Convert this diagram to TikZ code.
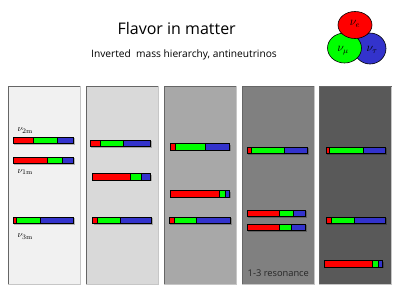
\documentclass[tikz,border=0pt]{standalone}
\usepackage{fontspec}
\newfontfamily\comicfont{Open Sans}

\definecolor{nured}{HTML}{FF0000}
\definecolor{nugreen}{HTML}{00FF00}
\definecolor{nublue}{HTML}{3333CC}
\definecolor{panelA}{HTML}{F1F1F1}
\definecolor{panelB}{HTML}{D9D9D9}
\definecolor{panelC}{HTML}{A8A8A8}
\definecolor{panelD}{HTML}{808080}
\definecolor{panelE}{HTML}{595959}

% one flavour bar: y, left, end of red, end of green, right
\newcommand{\flavorbar}[5]{%
  \fill[barshadow] (#2+1,#1+1) rectangle (#5+1.2,#1+7.7);
  \filldraw[barline, fill=nured] (#2,#1) rectangle (#3,#1+6.5);
  \filldraw[barline, fill=nugreen] (#3,#1) rectangle (#4,#1+6.5);
  \filldraw[barline, fill=nublue] (#4,#1) rectangle (#5,#1+6.5);
}

\begin{document}
\begin{tikzpicture}[x=1pt, y=-1pt,
  panel/.style={draw=gray!45, line width=0.8pt},
  panelshade/.style={draw=gray!80!black, line width=1pt},
  barline/.style={draw=black, line width=0.7pt},
  barshadow/.style={fill=black, opacity=0.25},
  flavor/.style={draw=black, line width=0.6pt},
  flavorlabel/.style={font=\fontsize{12}{13}\selectfont, inner sep=0pt},
  heading/.style={font=\comicfont\fontsize{16}{18}\selectfont},
  subheading/.style={font=\comicfont\fontsize{10.2}{12}\selectfont},
  masslabel/.style={font=\fontsize{9.5}{10}\selectfont, inner sep=0pt, anchor=west},
  reso/.style={font=\comicfont\fontsize{9.3}{10}\selectfont, text=black!85}
]

  \fill[white] (0,0) rectangle (402,301);
  \useasboundingbox (0,0) rectangle (402,301);

  % Titles
  \node[heading] (title) at (176.7,28.3) {Flavor in matter};
  \node[subheading] (subtitle) at (184,55) {Inverted\ \ mass hierarchy, antineutrinos};

  % Flavour circles
  \draw[flavor, fill=nublue] (370,48.5) ellipse [x radius=16pt, y radius=15.5pt];
  \draw[flavor, fill=nugreen] (344.5,48) ellipse [x radius=17pt, y radius=15pt];
  \draw[flavor, fill=nured] (355,25) ellipse [x radius=17pt, y radius=13.5pt];
  \node[flavorlabel] (nue) at (355,24) {$\nu_e$};
  \node[flavorlabel] (numu) at (343,51) {$\nu_\mu$};
  \node[flavorlabel] (nutau) at (372,50) {$\nu_\tau$};

  % Panels
  \draw[panel, fill=panelA] (8,86) rectangle (80,284);
  \draw[panel, fill=panelB] (86,86) rectangle (158,284);
  \draw[panel, fill=panelC] (164,86) rectangle (236,284);
  \draw[panel, fill=panelD] (242,86) rectangle (314,284);
  \draw[panel, fill=panelE] (319.5,86) rectangle (391.5,284);
  \draw[panelshade] (8,284) -- (8,86) -- (80,86);
  \draw[panelshade] (86,284) -- (86,86) -- (158,86);
  \draw[panelshade] (164,284) -- (164,86) -- (236,86);
  \draw[panelshade] (242,284) -- (242,86) -- (314,86);
  \draw[panelshade] (319.5,284) -- (319.5,86) -- (391.5,86);

  % Bars, panel 1
  \flavorbar{137.3}{13}{33.3}{57.3}{73.7}
  \flavorbar{157}{13}{47}{62.3}{73.7}
  \flavorbar{217.3}{13}{16.7}{40.3}{73.7}
  \node[masslabel] (nu2m) at (17.3,130.7) {$\nu_{2\mathrm{m}}$};
  \node[masslabel] (nu1m) at (17.3,172) {$\nu_{1\mathrm{m}}$};
  \node[masslabel] (nu3m) at (17.3,236.7) {$\nu_{3\mathrm{m}}$};

  % Bars, panel 2
  \flavorbar{140.3}{90}{100.7}{123.7}{150.7}
  \flavorbar{173.7}{92.7}{130.3}{141}{150.7}
  \flavorbar{217.3}{92.7}{97.3}{120.3}{151.7}

  % Bars, panel 3
  \flavorbar{143.7}{170}{175.7}{205}{229.7}
  \flavorbar{190.5}{170}{219}{225.3}{229.7}
  \flavorbar{217.3}{169.3}{174.7}{196.3}{230.3}

  % Bars, panel 4
  \flavorbar{147}{247}{251}{284.3}{307.3}
  \flavorbar{210.3}{247}{279.3}{293.7}{305.7}
  \flavorbar{224}{247}{279.3}{291.3}{305.7}
  \node[reso] (resonance) at (278.3,273.3) {1-3 resonance};

  % Bars, panel 5
  \flavorbar{147}{326}{329.3}{363.3}{385.3}
  \flavorbar{217.3}{326}{331.7}{354}{385.3}
  \flavorbar{260.7}{324.7}{372.3}{378.3}{382.7}

\end{tikzpicture}
\end{document}
